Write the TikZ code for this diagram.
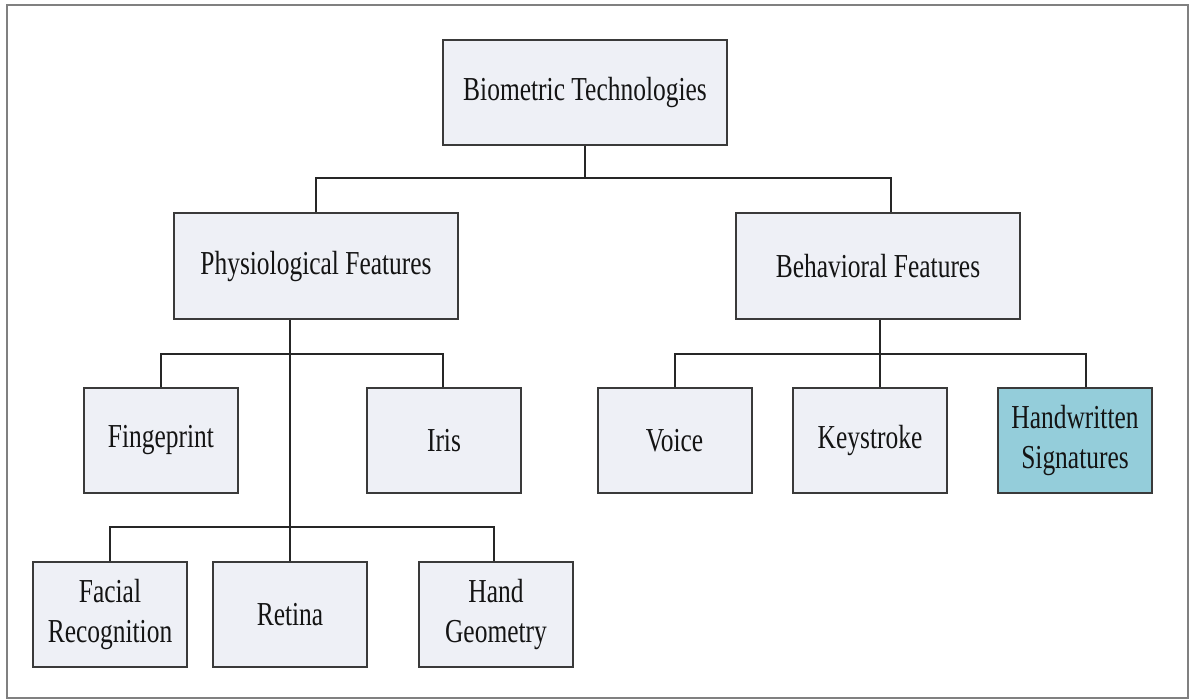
\documentclass[tikz,border=0pt]{standalone}
\usepackage{fontspec}
\setmainfont{Liberation Serif}[FakeStretch=0.76]
\definecolor{boxfill}{HTML}{EEF0F6}
\definecolor{hlfill}{HTML}{94CDDA}
\definecolor{boxline}{HTML}{3A3A3A}
\definecolor{txt}{HTML}{141414}
\definecolor{frameline}{HTML}{808080}
\tikzset{
  box/.style={draw=boxline, line width=2pt, fill=boxfill, text=txt,
    align=center, inner sep=0pt,
    font=\fontsize{33.5}{40}\selectfont},
  bigbox/.style={box, minimum width=284pt, minimum height=105pt},
  leafbox/.style={box, minimum width=154pt, minimum height=105pt},
  hlbox/.style={leafbox, fill=hlfill},
  wire/.style={draw=black!85, line width=1.5pt}
}
\begin{document}
\begin{tikzpicture}[x=1pt, y=-1pt]
  \useasboundingbox (0,0) rectangle (1190,700);
  % outer frame
  \draw[frameline, line width=2pt] (7,5) rectangle (1188,698);

  % nodes
  \node[bigbox] (top)   at (585,92.5) {Biometric Technologies};
  \node[bigbox] (phys)  at (316,266)  {Physiological Features};
  \node[bigbox] (beh)   at (878,266)  {Behavioral Features};

  \node[leafbox] (fing)  at (161,440.5) {Fingeprint};
  \node[leafbox] (iris)  at (444,440.5) {Iris};
  \node[leafbox] (voice) at (674.5,440.5) {Voice};
  \node[leafbox] (key)   at (870,440.5) {Keystroke};
  \node[hlbox]   (hw)    at (1075,440.5) {Handwritten\\Signatures};

  \node[leafbox] (face)  at (110,614.5) {Facial\\Recognition};
  \node[leafbox] (ret)   at (290,614.5) {Retina};
  \node[leafbox] (hand)  at (496,614.5) {Hand\\Geometry};

  % bus junctions
  \coordinate (aL) at (316,178);
  \coordinate (aR) at (891,178);
  \coordinate (bL) at (161,354);
  \coordinate (bR) at (443,354);
  \coordinate (cL) at (675,354);
  \coordinate (cM) at (880,354);
  \coordinate (cR) at (1086,354);
  \coordinate (dL) at (110,527);
  \coordinate (dR) at (494,527);

  % top level
  \draw[wire] (top.south) -- (top.south |- aL);
  \draw[wire] (aL |- phys.north) -- (aL) -- (aR) -- (aR |- beh.north);

  % physiological branch
  \draw[wire] (ret.north |- phys.south) -- (ret.north);
  \draw[wire] (bL |- fing.north) -- (bL) -- (bR) -- (bR |- iris.north);
  \draw[wire] (dL |- face.north) -- (dL) -- (dR) -- (dR |- hand.north);

  % behavioral branch
  \draw[wire] (cM |- beh.south) -- (cM |- key.north);
  \draw[wire] (cL |- voice.north) -- (cL) -- (cR) -- (cR |- hw.north);
\end{tikzpicture}
\end{document}
